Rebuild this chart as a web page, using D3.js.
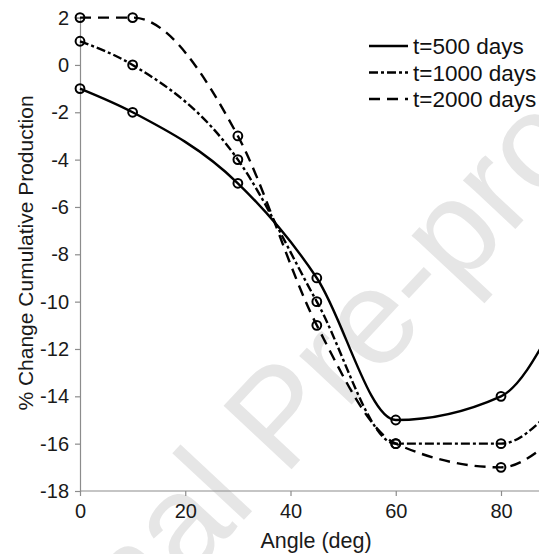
<!DOCTYPE html>
<html>
<head>
<meta charset="utf-8">
<script src="https://cdn.jsdelivr.net/npm/d3@7"></script>
<style>
  html, body { margin: 0; padding: 0; background: #fff; }
  svg { display: block; font-family: "Liberation Sans", Arial, Helvetica, sans-serif; }
</style>
</head>
<body>
<svg id="chart" width="539" height="554"></svg>
<script>
// Angle sweep (degrees) and % change in cumulative production per run time
const angles = [0, 10, 30, 45, 60, 80, 90];
const t500 = [-1, -2, -5, -9, -15, -14, -11];
const t1000 = [1, 0, -4, -10, -16, -16, -14.5];
const t2000 = [2, 2, -3, -11, -16, -17, -15.8];
const seriesNames = ["t=500 days", "t=1000 days", "t=2000 days"];
const xTicks = [0, 20, 40, 60, 80];
const yTicks = [2, 0, -2, -4, -6, -8, -10, -12, -14, -16, -18];

const series = [
  { name: seriesNames[0], values: t500, dash: null },
  { name: seriesNames[1], values: t1000, dash: "9,3,3,3" },
  { name: seriesNames[2], values: t2000, dash: "11,7" }
];

const svg = d3.select("#chart");
const W = 539, H = 554;

// Background watermark
svg.append("text")
  .attr("transform", "translate(312,447) rotate(-47)")
  .attr("text-anchor", "middle")
  .attr("font-size", 135)
  .attr("fill", "#e6e6e6")
  .text("Journal Pre-proof");

const x = d3.scaleLinear().domain([0, 90]).range([80, 80 + 90 * 5.2625]);
const y = d3.scaleLinear().domain([-18, 2]).range([491, 17.6]);

// Axes
const axisColor = "#8c8c8c";
const gx = svg.append("g").attr("transform", `translate(0,${y(-18)})`)
  .call(d3.axisBottom(x).tickValues(xTicks).tickSize(5).tickPadding(8).tickFormat(d3.format("d")));
const gy = svg.append("g").attr("transform", `translate(${x(0)},0)`)
  .call(d3.axisLeft(y).tickValues(yTicks).tickSize(5).tickPadding(6).tickFormat(d => d3.format("d")(d).replace("−", "-")));
[gx, gy].forEach(g => {
  g.select(".domain").attr("stroke", axisColor).attr("stroke-width", 1.2);
  g.selectAll(".tick line").attr("stroke", axisColor).attr("stroke-width", 1.2);
  g.selectAll(".tick text").attr("fill", "#1a1a1a").attr("font-size", 20)
    .attr("font-family", "Liberation Sans, Arial, sans-serif");
});
gx.select(".domain").attr("d", `M${x(0)},0H${W}`);

// Axis titles
svg.append("text")
  .attr("x", 316).attr("y", 548)
  .attr("text-anchor", "middle").attr("font-size", 21.5).attr("fill", "#1a1a1a")
  .text("Angle (deg)");
svg.append("text")
  .attr("transform", "translate(33,253) rotate(-90)")
  .attr("text-anchor", "middle").attr("font-size", 21).attr("fill", "#1a1a1a")
  .text("% Change Cumulative Production");

// Curves and markers
const line = d3.line()
  .x((d, i) => x(angles[i]))
  .y(d => y(d))
  .curve(d3.curveMonotoneX);

series.forEach(s => {
  svg.append("path")
    .attr("d", line(s.values))
    .attr("fill", "none")
    .attr("stroke", "#000")
    .attr("stroke-width", 2.4)
    .attr("stroke-dasharray", s.dash);
  svg.append("g").selectAll("circle")
    .data(s.values)
    .join("circle")
    .attr("cx", (d, i) => x(angles[i]))
    .attr("cy", d => y(d))
    .attr("r", 4.4)
    .attr("fill", "none")
    .attr("stroke", "#000")
    .attr("stroke-width", 2);
});

// Legend
const legend = svg.append("g");
series.forEach((s, i) => {
  const ly = 46 + i * 26.5;
  legend.append("line")
    .attr("x1", 369).attr("x2", 408).attr("y1", ly).attr("y2", ly)
    .attr("stroke", "#000").attr("stroke-width", 2.4)
    .attr("stroke-dasharray", s.dash);
  legend.append("text")
    .attr("x", 413).attr("y", ly + 8)
    .attr("font-size", 22.5).attr("fill", "#111")
    .text(s.name);
});
</script>
</body>
</html>
